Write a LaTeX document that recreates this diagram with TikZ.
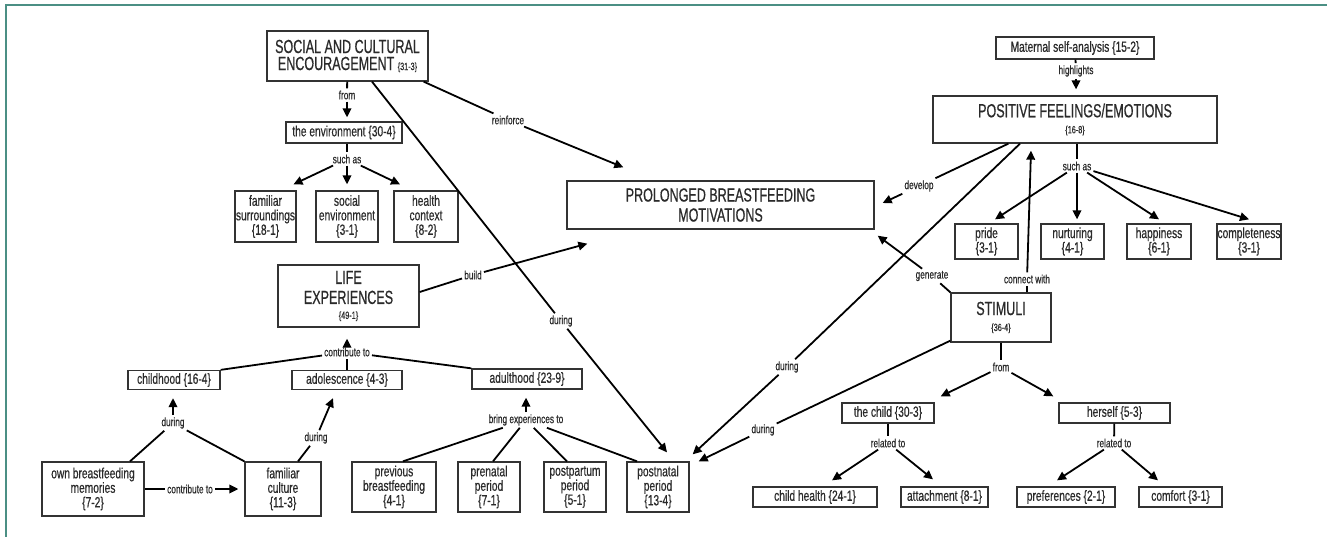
\documentclass[tikz,border=0pt]{standalone}
\usepackage{fontspec}
\setmainfont{Liberation Sans}[FakeStretch=0.69, FakeBold=0.5]
\newfontfamily\capfnt{Liberation Sans}[FakeStretch=0.66, FakeBold=0.6]
\usetikzlibrary{arrows.meta,calc}
\definecolor{framec}{HTML}{4B8F84}
\definecolor{txt}{HTML}{2A2A2A}
\definecolor{boxc}{HTML}{333333}
\newcommand\fs[2]{\fontsize{#1}{#2}\selectfont}
\newcommand\sn[1]{{\normalfont\fs{10.5}{10}\{#1\}}}
\begin{document}
\begin{tikzpicture}[x=1pt,y=-1pt,
 box/.style={draw=boxc, line width=1.3pt, inner sep=0pt, align=center, text=txt, font=\fs{14.8}{14.5}},
 big/.style={box, font=\capfnt\fs{19}{20}},
 lbl/.style={inner sep=2pt, text=txt, font=\fs{12}{12}},
 ln/.style={line width=1.8pt, draw=black},
 arr/.style={ln, -{Triangle[length=9pt,width=8.5pt]}}
]
\useasboundingbox (0,0) rectangle (1327,537);
\draw[framec, line width=2pt] (6,537) -- (6,5) -- (1327,5);

% ---- left/top nodes
\node[big, minimum width=161pt, minimum height=50pt] (soc) at (347.5,56) {SOCIAL AND CULTURAL\\[-3pt]ENCOURAGEMENT \sn{31-3}};
\node[box, minimum width=116pt, minimum height=21pt] (env) at (344,132.5) {the environment \{30-4\}};
\node[box, minimum width=61pt, minimum height=51pt] (fam) at (265.5,216.5) {familiar\\surroundings\\\{18-1\}};
\node[box, minimum width=62pt, minimum height=51pt] (senv) at (347,216.5) {social\\environment\\\{3-1\}};
\node[box, minimum width=64pt, minimum height=51pt] (hctx) at (426,216.5) {health\\context\\\{8-2\}};
\node[big, minimum width=307pt, minimum height=48pt] (pbm) at (720.5,205) {PROLONGED BREASTFEEDING\\MOTIVATIONS};
\node[big, minimum width=141pt, minimum height=62pt] (life) at (348.5,296) {LIFE\\EXPERIENCES\\[-5pt]\sn{49-1}};
\node[box, minimum width=92pt, minimum height=19pt] (chood) at (174,380) {childhood \{16-4\}};
\node[box, minimum width=110pt, minimum height=19pt] (adol) at (347,380) {adolescence \{4-3\}};
\node[box, minimum width=110pt, minimum height=20pt] (adult) at (527,379) {adulthood \{23-9\}};
\node[box, minimum width=102pt, minimum height=54pt] (own) at (93,489) {own breastfeeding\\memories\\\{7-2\}};
\node[box, minimum width=76pt, minimum height=54pt] (fcul) at (283,489) {familiar\\culture\\\{11-3\}};
\node[box, minimum width=84pt, minimum height=50pt] (prev) at (394,487) {previous\\breastfeeding\\\{4-1\}};
\node[box, minimum width=62pt, minimum height=50pt] (pren) at (489,487) {prenatal\\period\\\{7-1\}};
\node[box, minimum width=62pt, minimum height=50pt] (postp) at (575,487) {postpartum\\period\\\{5-1\}};
\node[box, minimum width=62pt, minimum height=50pt] (postn) at (658,487) {postnatal\\period\\\{13-4\}};

% ---- right nodes
\node[box, minimum width=158pt, minimum height=22pt] (msa) at (1075,48) {Maternal self-analysis \{15-2\}};
\node[big, minimum width=284pt, minimum height=47pt] (pos) at (1075,119.5) {POSITIVE FEELINGS/EMOTIONS\\[-4pt]\sn{16-8}};
\node[box, minimum width=63pt, minimum height=35pt] (pride) at (986.5,241.5) {pride\\\{3-1\}};
\node[box, minimum width=63pt, minimum height=35pt] (nurt) at (1072.5,241.5) {nurturing\\\{4-1\}};
\node[box, minimum width=64pt, minimum height=35pt] (happ) at (1159,241.5) {happiness\\\{6-1\}};
\node[box, minimum width=64pt, minimum height=35pt] (compl) at (1249,241.5) {completeness\\\{3-1\}};
\node[big, minimum width=100pt, minimum height=49pt] (stim) at (1001,317.5) {STIMULI\\[-4pt]\sn{36-4}};
\node[box, minimum width=92pt, minimum height=20pt] (tchild) at (888,413) {the child \{30-3\}};
\node[box, minimum width=111pt, minimum height=20pt] (hers) at (1114.5,413) {herself \{5-3\}};
\node[box, minimum width=124pt, minimum height=20pt] (chealth) at (815,497) {child health \{24-1\}};
\node[box, minimum width=87pt, minimum height=20pt] (attach) at (944.5,497) {attachment \{8-1\}};
\node[box, minimum width=98pt, minimum height=20pt] (pref) at (1066,497) {preferences \{2-1\}};
\node[box, minimum width=83pt, minimum height=20pt] (comfort) at (1180.5,497) {comfort \{3-1\}};

% ---- labels
\node[lbl] (l1) at (347,95) {from};
\node[lbl] (l2) at (347,159) {such as};
\node[lbl] (l3) at (508,120) {reinforce};
\node[lbl] (l4) at (561,321) {during};
\node[lbl] (l5) at (473,275) {build};
\node[lbl] (l6) at (347,352) {contribute to};
\node[lbl] (l7) at (173,423) {during};
\node[lbl] (l8) at (316,438) {during};
\node[lbl] (l9) at (190,489) {contribute to};
\node[lbl] (l10) at (526,420) {bring experiences to};
\node[lbl] (l11) at (787,367) {during};
\node[lbl] (l12) at (763,430) {during};
\node[lbl] (l13) at (1076,71) {highlights};
\node[lbl] (l14) at (1077,166) {such as};
\node[lbl] (l15) at (919,186) {develop};
\node[lbl] (l16) at (1027,279) {connect with};
\node[lbl] (l17) at (932,276) {generate};
\node[lbl] (l18) at (1001,367) {from};
\node[lbl] (l19) at (888,443) {related to};
\node[lbl] (l20) at (1114,443) {related to};

% ---- connectors
\draw[ln] (soc) -- (l1);
\draw[arr] (l1) -- ($(env.north)+(3,-4)$);

\draw[ln] ($(env.south)+(3,0)$) -- (l2);
\draw[arr] (l2) -- ($(fam.north)+(28,-6)$);
\draw[arr] (l2) -- ($(senv.north)+(0,-6)$);
\draw[arr] (l2) -- ($(hctx.north)+(-26,-6)$);

\draw[ln] ($(soc.south east)+(-5,0)$) -- (l3);
\draw[arr] (l3) -- ($(pbm.north west)+(57,-13)$);

\draw[ln] ($(soc.south)+(24.5,0)$) -- (l4);
\draw[arr] (l4) -- ($(postn.north)+(9,-9)$);

\draw[ln] ($(life.east)+(0,-4)$) -- (l5);
\draw[arr] (l5) -- ($(pbm.south west)+(21,14)$);

\draw[ln] (chood.north east) -- (l6);
\draw[ln] (adult.north west) -- (l6);
\draw[ln] (adol) -- (l6);
\draw[arr] (l6) -- ($(life.south)+(-1.5,11)$);

\draw[ln] ($(own.north)+(37,0)$) -- (l7);
\draw[ln] (fcul.north west) -- (l7);
\draw[arr] (l7) -- ($(chood.south)+(-1,8)$);

\draw[ln] ($(fcul.north)+(15,0)$) -- (l8);
\draw[arr] (l8) -- ($(adol.south)+(-14,8)$);

\draw[ln] (own.east) -- (l9);
\draw[arr] (l9) -- ($(fcul.west)+(-6,0)$);

\draw[ln] ($(prev.north)+(9,0)$) -- (l10);
\draw[ln] ($(pren.north)+(4,0)$) -- (l10);
\draw[ln] ($(postp.north)+(-8,0)$) -- (l10);
\draw[ln] ($(postn.north)+(-21,0)$) -- (l10);
\draw[arr] (l10) -- ($(adult.south)+(-1,8)$);

\draw[ln] ($(pos.south)+(-55,0)$) -- (l11);
\draw[arr] (l11) -- ($(postn.north east)+(3,-7)$);

\draw[ln] ($(stim.south west)+(0,-2)$) -- (l12);
\draw[arr] (l12) -- ($(postn.north east)+(9,0)$);

\draw[ln] (msa) -- (l13);
\draw[arr] (l13) -- ($(pos.north)+(1,-6)$);

\draw[ln] ($(pos.south)+(2,0)$) -- (l14);
\draw[arr] (l14) -- ($(pride.north)+(8.5,-4)$);
\draw[arr] (l14) -- ($(nurt.north)+(4.5,-4)$);
\draw[arr] (l14) -- ($(happ.north)+(0,-4)$);
\draw[arr] (l14) -- ($(compl.north)+(0,-4)$);

\draw[ln] ($(pos.south west)+(76,0)$) -- (l15);
\draw[arr] (l15) -- ($(pbm.east)+(8,-2)$);

\draw[ln] ($(stim.north)+(26,0)$) -- (l16);
\draw[arr] (l16) -- ($(pos.south)+(-44,7)$);

\draw[ln] (stim.north west) -- (l17);
\draw[arr] (l17) -- ($(pbm.south east)+(3,6)$);

\draw[ln] (stim) -- (l18);
\draw[arr] (l18) -- ($(tchild.north east)+(6,-6)$);
\draw[arr] (l18) -- ($(hers.north west)+(-5,-6)$);

\draw[ln] (tchild) -- (l19);
\draw[arr] (l19) -- ($(chealth.north)+(17,-6)$);
\draw[arr] (l19) -- ($(attach.north)+(-11.5,-7)$);

\draw[ln] (hers) -- (l20);
\draw[arr] (l20) -- ($(pref.north)+(-9,-6)$);
\draw[arr] (l20) -- ($(comfort.north)+(-22.5,-6)$);
\end{tikzpicture}
\end{document}
